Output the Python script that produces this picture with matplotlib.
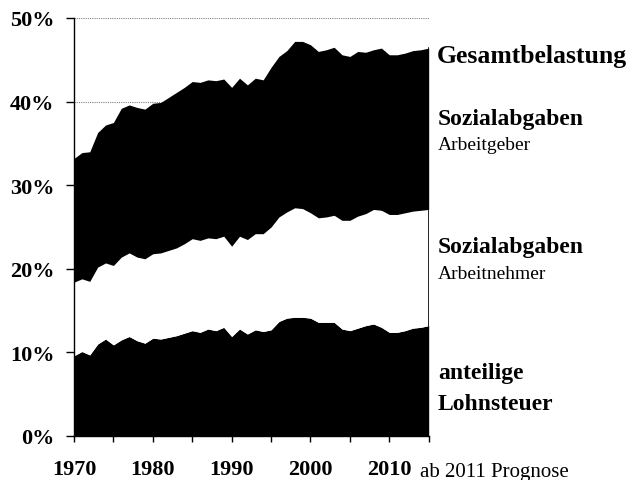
import numpy as np
import matplotlib
matplotlib.use('Agg')
import matplotlib.pyplot as plt

plt.rcParams['font.family'] = ['Liberation Serif', 'DejaVu Serif']

years = np.arange(1970, 2016)

# stacked levels in percent
lohnsteuer = [9.6, 10.1, 9.7, 11.0, 11.6, 10.9, 11.5, 11.9, 11.4, 11.1,
              11.7, 11.6, 11.8, 12.0, 12.3, 12.6, 12.4, 12.8, 12.6, 13.0,
              11.9, 12.8, 12.2, 12.7, 12.5, 12.7, 13.7, 14.1, 14.2, 14.2,
              14.1, 13.6, 13.6, 13.6, 12.8, 12.6, 12.9, 13.2, 13.4, 13.0,
              12.4, 12.4, 12.6, 12.9, 13.0, 13.2]
bis_arbeitnehmer = [18.4, 18.8, 18.5, 20.2, 20.7, 20.4, 21.4, 21.9, 21.4, 21.2,
                    21.8, 21.9, 22.2, 22.5, 23.0, 23.6, 23.4, 23.7, 23.6, 23.9,
                    22.7, 23.9, 23.5, 24.2, 24.2, 25.0, 26.2, 26.8, 27.3, 27.2,
                    26.7, 26.1, 26.2, 26.4, 25.8, 25.8, 26.3, 26.6, 27.1, 27.0,
                    26.5, 26.5, 26.7, 26.9, 27.0, 27.1]
gesamt = [33.2, 33.9, 34.0, 36.3, 37.2, 37.5, 39.2, 39.6, 39.3, 39.1,
          39.8, 39.9, 40.5, 41.1, 41.7, 42.4, 42.3, 42.6, 42.5, 42.7,
          41.7, 42.8, 42.0, 42.8, 42.6, 44.1, 45.4, 46.1, 47.2, 47.2,
          46.8, 46.0, 46.2, 46.5, 45.6, 45.4, 46.0, 45.9, 46.2, 46.4,
          45.6, 45.6, 45.8, 46.1, 46.2, 46.4]

fig = plt.figure(figsize=(6.34, 4.81), dpi=100)
ax = fig.add_axes([74 / 634, 44 / 481, 354.7 / 634, 418 / 481])

for g in range(10, 51, 10):
    ax.axhline(g, color='#808080', lw=0.8, ls=(0, (1, 1)), zorder=0)

ax.fill_between(years, 0, lohnsteuer, color='black', lw=0, zorder=2)
ax.fill_between(years, lohnsteuer, bis_arbeitnehmer, color='white', lw=0, zorder=2)
ax.fill_between(years, bis_arbeitnehmer, gesamt, color='black', lw=0, zorder=2)
ax.plot([years[-1], years[-1]], [0, gesamt[-1]], color='black', lw=1.2, zorder=3)

ax.set_xlim(1970, 2015)
ax.set_ylim(0, 50)

ax.spines['top'].set_visible(False)
ax.spines['right'].set_visible(False)
ax.spines['left'].set_linewidth(1)
ax.spines['bottom'].set_linewidth(1)

ax.set_yticks(range(0, 51, 10))
ax.set_yticklabels([f'{v}%' for v in range(0, 51, 10)], fontsize=16, fontweight='bold')
xt = list(range(1970, 2016, 5))
ax.set_xticks(xt)
ax.set_xticklabels([str(v) if v % 10 == 0 and v < 2015 else '' for v in xt],
                   fontsize=16, fontweight='bold')
ax.tick_params(axis='y', direction='out', length=6, width=1, pad=8)
ax.tick_params(axis='x', direction='out', length=4.5, width=1, pad=12)

fig.text(420 / 634, 1 - 463 / 481, 'ab 2011 Prognose', fontsize=15, va='top', ha='left')

lx = 438 / 634
fig.text(437 / 634, 1 - 57 / 481, 'Gesamtbelastung', fontsize=18.5, fontweight='bold', va='center')
fig.text(lx, 1 - 120 / 481, 'Sozialabgaben', fontsize=17, fontweight='bold', va='center')
fig.text(lx, 1 - 146 / 481, 'Arbeitgeber', fontsize=14, va='center')
fig.text(lx, 1 - 248 / 481, 'Sozialabgaben', fontsize=17, fontweight='bold', va='center')
fig.text(lx, 1 - 275 / 481, 'Arbeitnehmer', fontsize=14, va='center')
fig.text(lx, 1 - 374 / 481, 'anteilige', fontsize=17, fontweight='bold', va='center')
fig.text(lx, 1 - 404 / 481, 'Lohnsteuer', fontsize=17, fontweight='bold', va='center')

fig.savefig('out.png', dpi=100)
